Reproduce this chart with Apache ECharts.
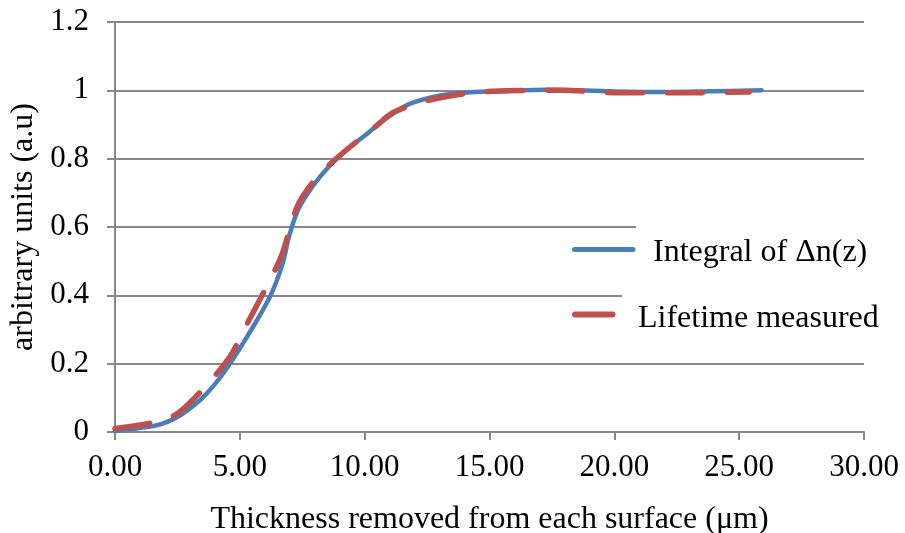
<!DOCTYPE html>
<html>
<head>
<meta charset="utf-8">
<script src="https://cdn.jsdelivr.net/npm/echarts@6/dist/echarts.min.js"></script>
<style>
html,body{margin:0;padding:0;background:#fff;}
#chart{width:905px;height:533px;}
</style>
</head>
<body>
<div id="chart"></div>
<script>
// Data
var seriesNames = ['Integral of \u0394n(z)', 'Lifetime measured'];
var integralX = [0, 1.0, 1.7, 2.5, 3.4, 4.0, 4.6, 5.3, 6.2, 6.7, 7.0, 7.4, 8.2, 9.1, 10.1, 11.0, 11.9, 13.5, 15.9, 17.3, 19.9, 21.9, 23.9, 25.9];
var integralY = [0.003, 0.012, 0.02, 0.044, 0.093, 0.14, 0.2, 0.28, 0.395, 0.49, 0.58, 0.66, 0.746, 0.815, 0.873, 0.925, 0.963, 0.99, 0.999, 1.002, 0.997, 0.995, 0.997, 1.0];
var lifetimeX = [0, 1.6, 2.5, 3.6, 4.6, 5.1, 6.2, 6.7, 7.1, 7.5, 8.5, 10.5, 11.2, 12.7, 15.1, 17.8, 20.3, 22.9, 25.4];
var lifetimeY = [0.01, 0.029, 0.054, 0.132, 0.22, 0.29, 0.444, 0.522, 0.62, 0.688, 0.776, 0.898, 0.937, 0.973, 0.997, 1.0, 0.993, 0.993, 0.995];
var xTicks = [0, 5, 10, 15, 20, 25, 30];
var yTicks = [0, 0.2, 0.4, 0.6, 0.8, 1, 1.2];
var xTitle = 'Thickness removed from each surface (\u03bcm)';
var yTitle = 'arbitrary units (a.u)';

function pairs(xs, ys) { return xs.map(function (x, i) { return [x, ys[i]]; }); }

var FONT = 'Liberation Serif';
var GRID = '#888888';
var BLUE = '#4a7ebb';
var RED = '#c0504d';
var chart = echarts.init(document.getElementById('chart'), null, {renderer: 'canvas'});
chart.setOption({
  backgroundColor: '#ffffff',
  animation: false,
  grid: {left: 115, right: 41, top: 22, bottom: 101, containLabel: false, outerBoundsMode: 'none'},
  xAxis: {
    type: 'value', min: xTicks[0], max: xTicks[xTicks.length - 1], interval: 5,
    name: xTitle, nameLocation: 'middle', nameGap: 72,
    nameTextStyle: {fontFamily: FONT, fontSize: 32, color: '#000'},
    axisLine: {show: true, lineStyle: {color: GRID, width: 2}},
    axisTick: {show: true, inside: false, length: 8, lineStyle: {color: GRID, width: 2}},
    axisLabel: {fontFamily: FONT, fontSize: 31, color: '#000', margin: 20,
      formatter: function (v) { return v.toFixed(2); }},
    splitLine: {show: false}
  },
  yAxis: {
    type: 'value', min: yTicks[0], max: yTicks[yTicks.length - 1], interval: 0.2,
    name: yTitle, nameLocation: 'middle', nameGap: 70, nameRotate: 90,
    nameTextStyle: {fontFamily: FONT, fontSize: 32, color: '#000'},
    axisLine: {show: true, lineStyle: {color: GRID, width: 2}},
    axisTick: {show: true, inside: false, length: 8, lineStyle: {color: GRID, width: 2}},
    axisLabel: {fontFamily: FONT, fontSize: 31, color: '#000', margin: 26},
    splitLine: {show: true, lineStyle: {color: GRID, width: 2}}
  },
  graphic: [
    {type: 'rect', z: 1, shape: {x: 636, y: 218, width: 269, height: 20}, style: {fill: '#fff'}},
    {type: 'rect', z: 1, shape: {x: 622, y: 287, width: 283, height: 16}, style: {fill: '#fff'}},
    {type: 'line', z: 6, shape: {x1: 574.5, y1: 249.5, x2: 633, y2: 249.5},
      style: {stroke: BLUE, lineWidth: 5, lineCap: 'round'}},
    {type: 'line', z: 6, shape: {x1: 575, y1: 314.5, x2: 612.5, y2: 314.5},
      style: {stroke: RED, lineWidth: 6, lineCap: 'round'}}
  ],
  legend: [
    {data: [seriesNames[0]], left: 572, top: 232, orient: 'vertical', icon: 'rect',
      itemWidth: 64, itemHeight: 5, z: 5,
      itemStyle: {opacity: 0, borderWidth: 0}, lineStyle: {opacity: 0},
      textStyle: {fontFamily: FONT, fontSize: 32, color: '#000', padding: [0, 0, 0, 7]}},
    {data: [seriesNames[1]], left: 572, top: 298, orient: 'vertical', icon: 'rect',
      itemWidth: 43, itemHeight: 6, z: 5,
      itemStyle: {opacity: 0, borderWidth: 0}, lineStyle: {opacity: 0},
      textStyle: {fontFamily: FONT, fontSize: 32, color: '#000', padding: [0, 0, 0, 13]}}
  ],
  series: [
    {name: seriesNames[0], type: 'line', data: pairs(integralX, integralY), smooth: 0.35,
      symbol: 'none', color: BLUE, z: 3,
      lineStyle: {color: BLUE, width: 4.5, cap: 'round', join: 'round'}},
    {name: seriesNames[1], type: 'line', data: pairs(lifetimeX, lifetimeY), smooth: 0.35,
      symbol: 'none', color: RED, z: 4,
      lineStyle: {color: RED, width: 5.5, type: [35, 25], cap: 'round', join: 'round'}}
  ]
});
</script>
</body>
</html>
